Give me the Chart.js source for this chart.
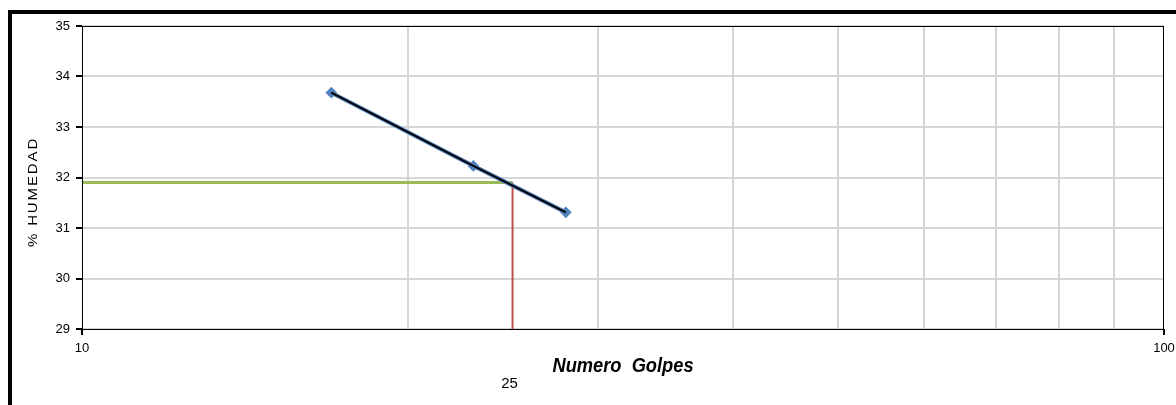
<!DOCTYPE html>
<html>
<head>
<meta charset="utf-8">
<script src="https://cdn.jsdelivr.net/npm/chart.js@4/dist/chart.umd.min.js"></script>
<style>
  html, body { margin: 0; padding: 0; background: #fff; overflow: hidden; }
  #wrap { position: relative; width: 1176px; height: 405px; }
  #frame {
    position: absolute; left: 8px; top: 10px; width: 1200px; height: 420px;
    border-left: 4px solid #000; border-top: 4px solid #000; pointer-events: none;
  }
</style>
</head>
<body>
<div id="wrap">
  <canvas id="chart" width="1176" height="405"></canvas>
  <div id="frame"></div>
</div>
<script>
// Data
const golpes = [17, 23, 28];
const humedad = [33.68, 32.23, 31.31];
const golpesObjetivo = 25;
const humedadObjetivo = 31.9;

// Axis ticks
const xGrid = [10, 20, 30, 40, 50, 60, 70, 80, 90, 100];
const xLabels = [10, 100];
const yMin = 29, yMax = 35;

const points = golpes.map((g, i) => ({ x: g, y: humedad[i] }));
const green = [{ x: xGrid[0], y: humedadObjetivo }, { x: golpesObjetivo, y: humedadObjetivo }];
const red = [{ x: golpesObjetivo, y: yMin }, { x: golpesObjetivo, y: humedadObjetivo }];

const sans = '"Liberation Sans", Arial, sans-serif';
const isEdge = v => v === xGrid[0] || v === xGrid[xGrid.length - 1];

// draws the plot border and the axis titles
const extras = {
  id: 'extras',
  afterDraw(chart) {
    const { ctx, chartArea: a, scales } = chart;
    ctx.save();
    ctx.strokeStyle = '#000';
    ctx.lineWidth = 1;
    ctx.strokeRect(Math.round(a.left) + 0.5, Math.round(a.top) + 0.5,
      Math.round(a.right - a.left) - 1, Math.round(a.bottom - a.top));

    // y title
    ctx.save();
    ctx.translate(34, 192);
    ctx.rotate(-Math.PI / 2);
    ctx.scale(1.25, 1);
    ctx.font = '12px ' + sans;
    ctx.letterSpacing = '1.5px';
    ctx.fillStyle = '#000';
    ctx.textAlign = 'center';
    ctx.textBaseline = 'middle';
    ctx.fillText('% HUMEDAD', 0, 0);
    ctx.restore();

    // x title (narrowed)
    ctx.save();
    ctx.translate((a.left + a.right) / 2, 372);
    ctx.scale(0.87, 1);
    ctx.font = 'italic bold 21px ' + sans;
    ctx.fillStyle = '#000';
    ctx.textAlign = 'center';
    ctx.textBaseline = 'alphabetic';
    ctx.fillText('Numero  Golpes', 0, 0);
    ctx.restore();

    // value 25 under the title
    ctx.font = '15px ' + sans;
    ctx.fillStyle = '#000';
    ctx.textAlign = 'center';
    ctx.textBaseline = 'middle';
    ctx.fillText(String(golpesObjetivo), scales.x.getPixelForValue(golpesObjetivo) - 3, 384);
    ctx.restore();
  }
};

new Chart(document.getElementById('chart'), {
  type: 'line',
  data: {
    datasets: [
      {
        data: points,
        borderColor: '#000',
        borderWidth: 2,
        pointRadius: 0,
        order: 0
      },
      {
        data: points,
        borderColor: '#4F81BD',
        borderWidth: 4,
        pointStyle: 'rectRot',
        pointRadius: 3,
        pointBackgroundColor: '#4F81BD',
        pointBorderColor: '#4F81BD',
        order: 1
      },
      {
        data: green,
        borderColor: '#9BBB59',
        borderWidth: 3,
        pointRadius: 0,
        order: 2
      },
      {
        data: red,
        borderColor: '#C0504D',
        borderWidth: 2,
        pointRadius: 0,
        order: 2
      }
    ]
  },
  options: {
    responsive: false,
    animation: false,
    layout: { padding: { top: 26, right: 12, left: 0, bottom: 0 } },
    plugins: { legend: { display: false }, tooltip: { enabled: false } },
    scales: {
      x: {
        type: 'logarithmic',
        min: 10,
        max: 100,
        afterBuildTicks: s => { s.ticks = xGrid.map(v => ({ value: v })); },
        afterFit: s => { s.height = 76; s.paddingLeft = 0; s.paddingRight = 0; },
        border: { display: false },
        grid: {
          color: c => (c.tick && isEdge(c.tick.value)) ? 'rgba(0,0,0,0)' : '#d6d6d6',
          tickColor: c => (c.tick && isEdge(c.tick.value)) ? '#000' : 'rgba(0,0,0,0)',
          lineWidth: 2,
          tickLength: 6
        },
        ticks: {
          autoSkip: false,
          maxRotation: 0,
          padding: 6,
          color: '#000',
          font: { family: sans, size: 13 },
          callback: v => xLabels.includes(v) ? String(v) : ''
        }
      },
      y: {
        min: yMin,
        max: yMax,
        afterFit: s => { s.width = 82; },
        border: { display: false },
        grid: {
          color: '#d6d6d6',
          tickColor: '#000',
          lineWidth: 2,
          tickLength: 6
        },
        ticks: {
          stepSize: 1,
          padding: 6,
          color: '#000',
          font: { family: sans, size: 13 }
        }
      }
    }
  },
  plugins: [extras]
});
</script>
</body>
</html>
